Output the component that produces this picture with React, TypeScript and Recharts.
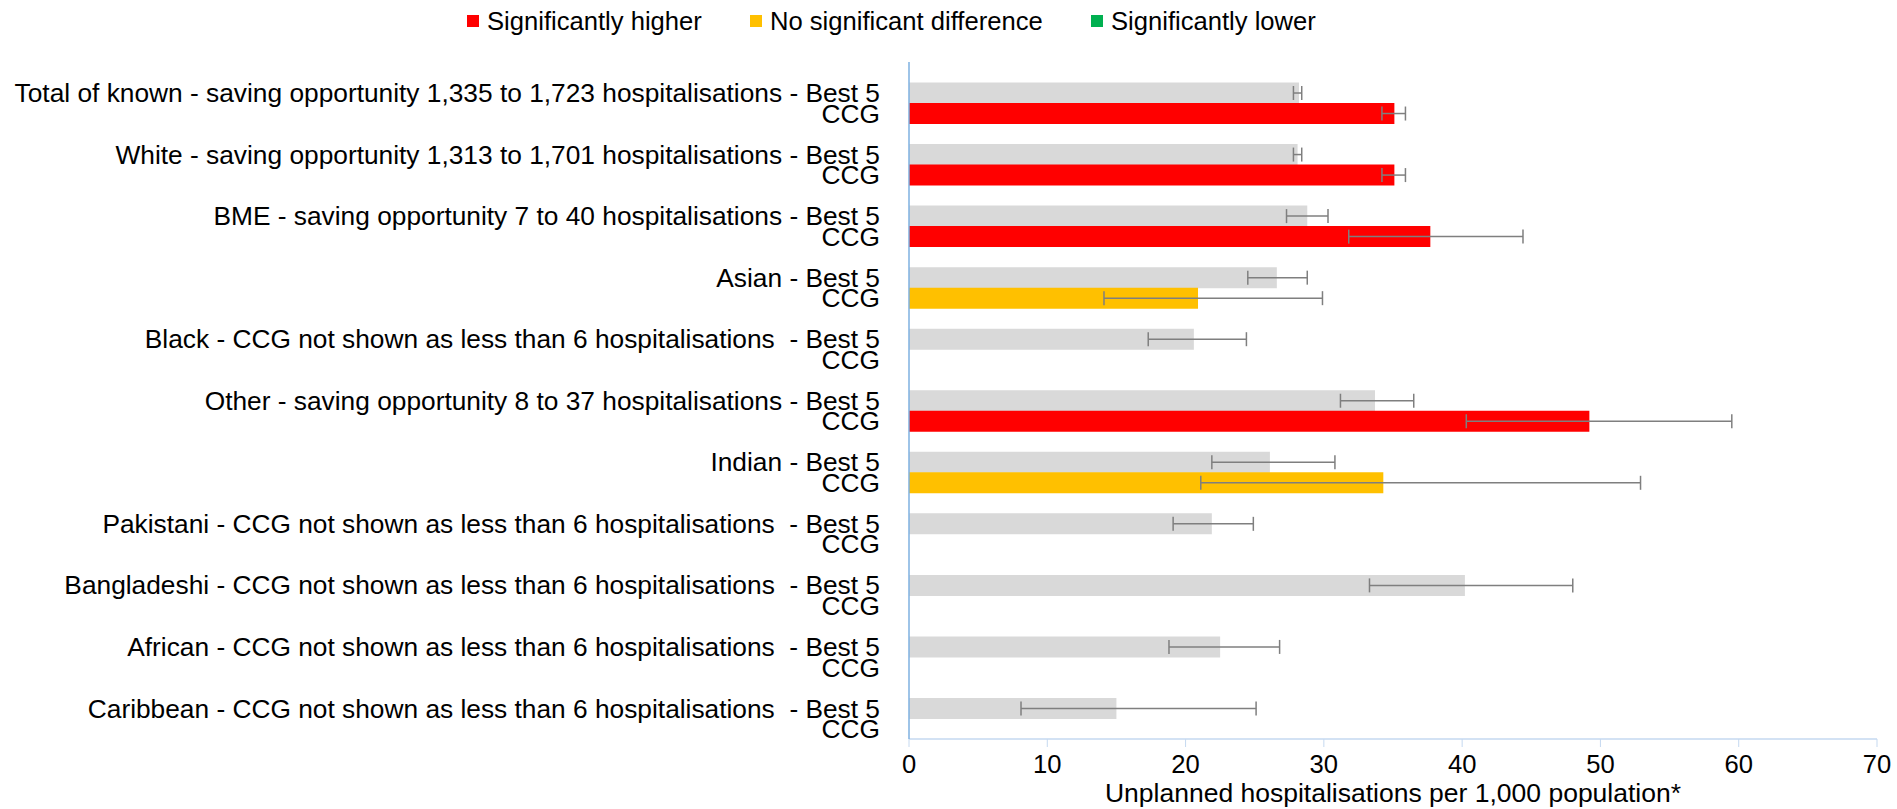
import React from 'react';
import { BarChart, Bar, XAxis, YAxis, Cell, ErrorBar, Legend } from 'recharts';

// category groups, top to bottom
const groups = [
  'Total of known - saving opportunity 1,335 to 1,723 hospitalisations',
  'White - saving opportunity 1,313 to 1,701 hospitalisations',
  'BME - saving opportunity 7 to 40 hospitalisations',
  'Asian',
  'Black - CCG not shown as less than 6 hospitalisations\u00A0',
  'Other - saving opportunity 8 to 37 hospitalisations',
  'Indian',
  'Pakistani - CCG not shown as less than 6 hospitalisations\u00A0',
  'Bangladeshi - CCG not shown as less than 6 hospitalisations\u00A0',
  'African - CCG not shown as less than 6 hospitalisations\u00A0',
  'Caribbean - CCG not shown as less than 6 hospitalisations\u00A0',
];

// Best 5 CCG values and confidence limits
const best5 = [28.2, 28.1, 28.8, 26.6, 20.6, 33.7, 26.1, 21.9, 40.2, 22.5, 15.0];
const best5Low = [27.8, 27.8, 27.3, 24.5, 17.3, 31.2, 21.9, 19.1, 33.3, 18.8, 8.1];
const best5High = [28.4, 28.4, 30.3, 28.8, 24.4, 36.5, 30.8, 24.9, 48.0, 26.8, 25.1];

// this CCG values and confidence limits (null = not shown)
const ccg = [35.1, 35.1, 37.7, 20.9, null, 49.2, 34.3, null, null, null, null];
const ccgLow = [34.2, 34.2, 31.8, 14.1, null, 40.3, 21.1, null, null, null, null];
const ccgHigh = [35.9, 35.9, 44.4, 29.9, null, 59.5, 52.9, null, null, null, null];
const ccgSignificance = ['higher', 'higher', 'higher', 'none', null, 'higher', 'none', null, null, null, null];

const xTicks = [0, 10, 20, 30, 40, 50, 60, 70];

const legendItems = [
  { key: 'higher', label: 'Significantly higher', color: '#ff0000', left: 467 },
  { key: 'none', label: 'No significant difference', color: '#ffc000', left: 750 },
  { key: 'lower', label: 'Significantly lower', color: '#00b050', left: 1091 },
];

const GREY = '#d9d9d9';
const FONT = '"Liberation Sans", Arial, sans-serif';
const FONT_SIZE = 25.6;
const LABEL_SIZE = 26.3;
const LEGEND_H = 44;

const colorFor = (sig: string | null) => {
  const item = legendItems.find((l) => l.key === sig);
  return item ? item.color : GREY;
};

// one blank slot, one Best 5 slot and one CCG slot per group
const rows: any[] = [];
groups.forEach((g, i) => {
  rows.push({ id: `blank${i}`, label: '', value: null, sig: null });
  rows.push({
    id: `best${i}`,
    label: `${g} - Best 5`,
    value: best5[i],
    err: [best5[i] - best5Low[i], best5High[i] - best5[i]],
    sig: null,
  });
  const v = ccg[i];
  rows.push({
    id: `ccg${i}`,
    label: 'CCG',
    value: v,
    err: v == null ? undefined : [v - (ccgLow[i] as number), (ccgHigh[i] as number) - v],
    sig: ccgSignificance[i],
  });
});

const labelById: Record<string, string> = {};
rows.forEach((r) => {
  labelById[r.id] = r.label;
});

const renderLegend = () => (
  <div style={{ position: 'relative', width: 1897, height: LEGEND_H, fontFamily: FONT }}>
    {legendItems.map((item) => (
      <div
        key={item.key}
        style={{ position: 'absolute', left: item.left, top: 4, display: 'flex', alignItems: 'center', whiteSpace: 'nowrap' }}
      >
        <span style={{ display: 'inline-block', width: 12, height: 12, background: item.color, marginRight: 8 }} />
        <span style={{ fontSize: FONT_SIZE, color: '#000', lineHeight: '34px' }}>{item.label}</span>
      </div>
    ))}
  </div>
);

export default function App() {
  return (
    <div style={{ position: 'absolute', left: 0, top: 0, width: 1897, height: 809, background: '#fff' }}>
      <BarChart
        width={1897}
        height={809}
        data={rows}
        layout="vertical"
        barCategoryGap={0}
        margin={{ top: 62 - LEGEND_H, right: 20, bottom: 0, left: 9 }}
      >
        <Legend
          verticalAlign="top"
          align="left"
          content={renderLegend}
          wrapperStyle={{ position: 'absolute', top: 0, left: 0, width: 1897, height: LEGEND_H }}
        />
        <XAxis
          type="number"
          domain={[0, 70]}
          ticks={xTicks}
          height={70}
          axisLine={{ stroke: '#c5d9f0', strokeWidth: 1.5 }}
          tickLine={{ stroke: '#c5d9f0' }}
          tickSize={8}
          tickMargin={8}
          tick={{ fill: '#000', fontSize: FONT_SIZE, fontFamily: FONT }}
          label={{
            value: 'Unplanned hospitalisations per 1,000 population*',
            position: 'insideBottom',
            offset: 7,
            fill: '#000',
            fontSize: 26.5,
            fontFamily: FONT,
          }}
        />
        <YAxis
          type="category"
          dataKey="id"
          width={900}
          interval={0}
          axisLine={{ stroke: '#7eb0e0', strokeWidth: 1.5 }}
          tickLine={false}
          tickSize={0}
          tickMargin={29}
          tickFormatter={(id: string) => labelById[id]}
          tick={{ fill: '#000', fontSize: LABEL_SIZE, fontFamily: FONT }}
        />
        <Bar dataKey="value" isAnimationActive={false}>
          {rows.map((r) => (
            <Cell key={r.id} fill={colorFor(r.sig)} />
          ))}
          <ErrorBar dataKey="err" direction="x" width={7} stroke="#7f7f7f" strokeWidth={1.5} />
        </Bar>
      </BarChart>
    </div>
  );
}
